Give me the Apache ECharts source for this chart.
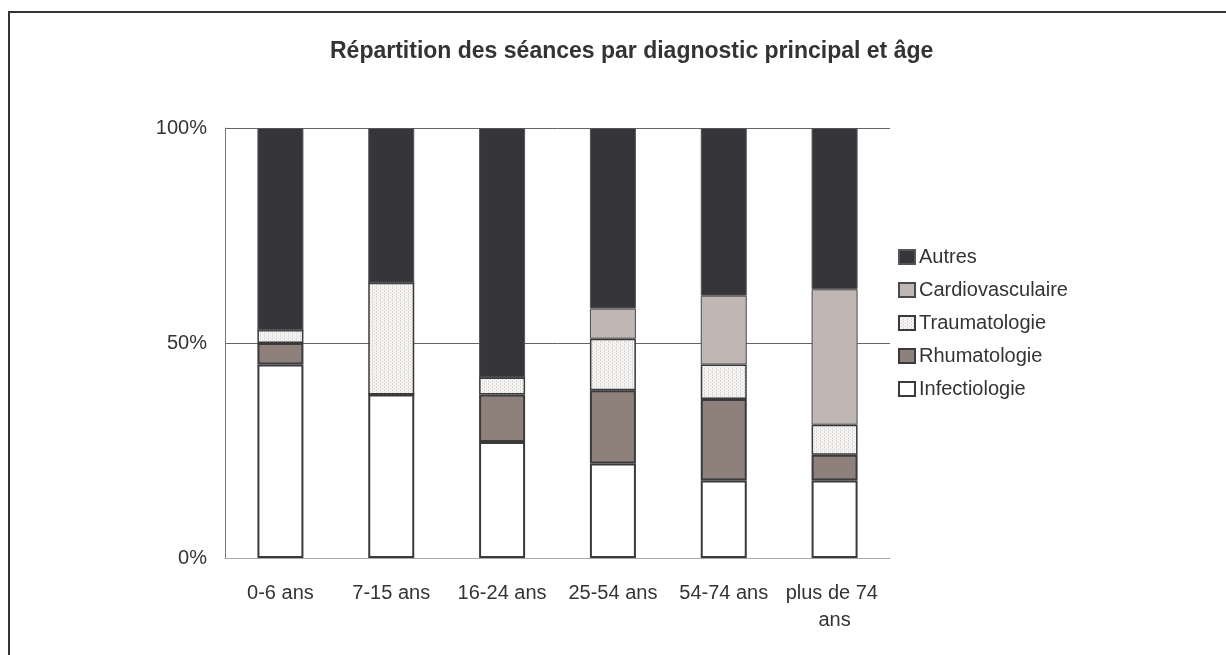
<!DOCTYPE html>
<html>
<head>
<meta charset="utf-8">
<script src="https://cdn.jsdelivr.net/npm/echarts@6/dist/echarts.min.js"></script>
<style>
  html, body { margin: 0; padding: 0; background: #fff; overflow: hidden; }
  #frame { position: absolute; left: 8px; top: 11px; width: 1230px; height: 700px; border-left: 2px solid #333; border-top: 2px solid #333; box-sizing: border-box; }
  #chart { position: absolute; left: 0; top: 0; width: 1226px; height: 655px; }
</style>
</head>
<body>
<div id="frame"></div>
<div id="chart"></div>
<script>
const categories = ['0-6 ans', '7-15 ans', '16-24 ans', '25-54 ans', '54-74 ans', 'plus de 74 ans']
const infectiologie = [45, 38, 27, 22, 18, 18]
const rhumatologie = [5, 0, 11, 17, 19, 6]
const traumatologie = [3, 26, 4, 12, 8, 7]
const cardiovasculaire = [0, 0, 0, 7, 16, 31.5]
const autres = [47, 36, 58, 42, 39, 37.5]
const yTicks = [0, 50, 100]

// dotted texture for Traumatologie
function dotPattern() {
  const c = document.createElement('canvas')
  c.width = 4
  c.height = 3
  const ctx = c.getContext('2d')
  ctx.fillStyle = '#f6f4f3'
  ctx.fillRect(0, 0, 4, 3)
  ctx.fillStyle = '#d9d5d3'
  ctx.fillRect(0, 0, 1, 1)
  ctx.fillRect(2, 1, 1, 1)
  ctx.fillRect(0, 2, 1, 1)
  return c
}

const font = '"Liberation Sans", Arial, sans-serif'

function bar(name, data, color, borderColor, borderWidth) {
  return {
    name,
    type: 'bar',
    stack: 'total',
    barWidth: 46,
    data,
    itemStyle: { color, borderColor, borderWidth },
    emphasis: { disabled: true },
  }
}

const chart = echarts.init(document.getElementById('chart'), null, { renderer: 'canvas' })
chart.setOption({
  animation: false,
  backgroundColor: 'transparent',
  title: {
    text: 'Répartition des séances par diagnostic principal et âge',
    left: 325,
    top: 35,
    textStyle: { fontFamily: font, fontSize: 23, fontWeight: 'bold', color: '#333' },
  },
  legend: {
    orient: 'vertical',
    left: 893,
    top: 242,
    itemWidth: 16,
    itemHeight: 14,
    itemGap: 13,
    icon: 'rect',
    data: ['Autres', 'Cardiovasculaire', 'Traumatologie', 'Rhumatologie', 'Infectiologie'],
    textStyle: { fontFamily: font, fontSize: 20, color: '#333', padding: [0, 0, 0, -1] },
  },
  grid: { left: 225, right: 336, top: 128, bottom: 97 },
  xAxis: {
    type: 'category',
    data: categories,
    axisTick: { show: false },
    axisLine: { lineStyle: { color: '#aaa', width: 1 } },
    axisLabel: {
      fontFamily: font, fontSize: 20, color: '#333', margin: 22, interval: 0,
      width: 100, overflow: 'break', lineHeight: 27,
    },
  },
  yAxis: {
    type: 'value',
    min: yTicks[0],
    max: yTicks[yTicks.length - 1],
    interval: yTicks[1] - yTicks[0],
    axisLine: { show: true, lineStyle: { color: '#777' } },
    axisTick: { show: false },
    splitLine: { lineStyle: { color: '#666', width: 1 } },
    axisLabel: { fontFamily: font, fontSize: 20, color: '#333', margin: 18, formatter: '{value}%' },
  },
  series: [
    bar('Infectiologie', infectiologie, '#ffffff', '#3a3a3c', 2),
    bar('Rhumatologie', rhumatologie, '#8e817c', '#3a3a3c', 2),
    bar('Traumatologie', traumatologie, { image: dotPattern(), repeat: 'repeat' }, '#3a3a3c', 1.5),
    bar('Cardiovasculaire', cardiovasculaire, '#c0b7b4', '#4a4a4c', 1),
    bar('Autres', autres, '#363539', '#555', 1),
  ],
})
</script>
</body>
</html>
